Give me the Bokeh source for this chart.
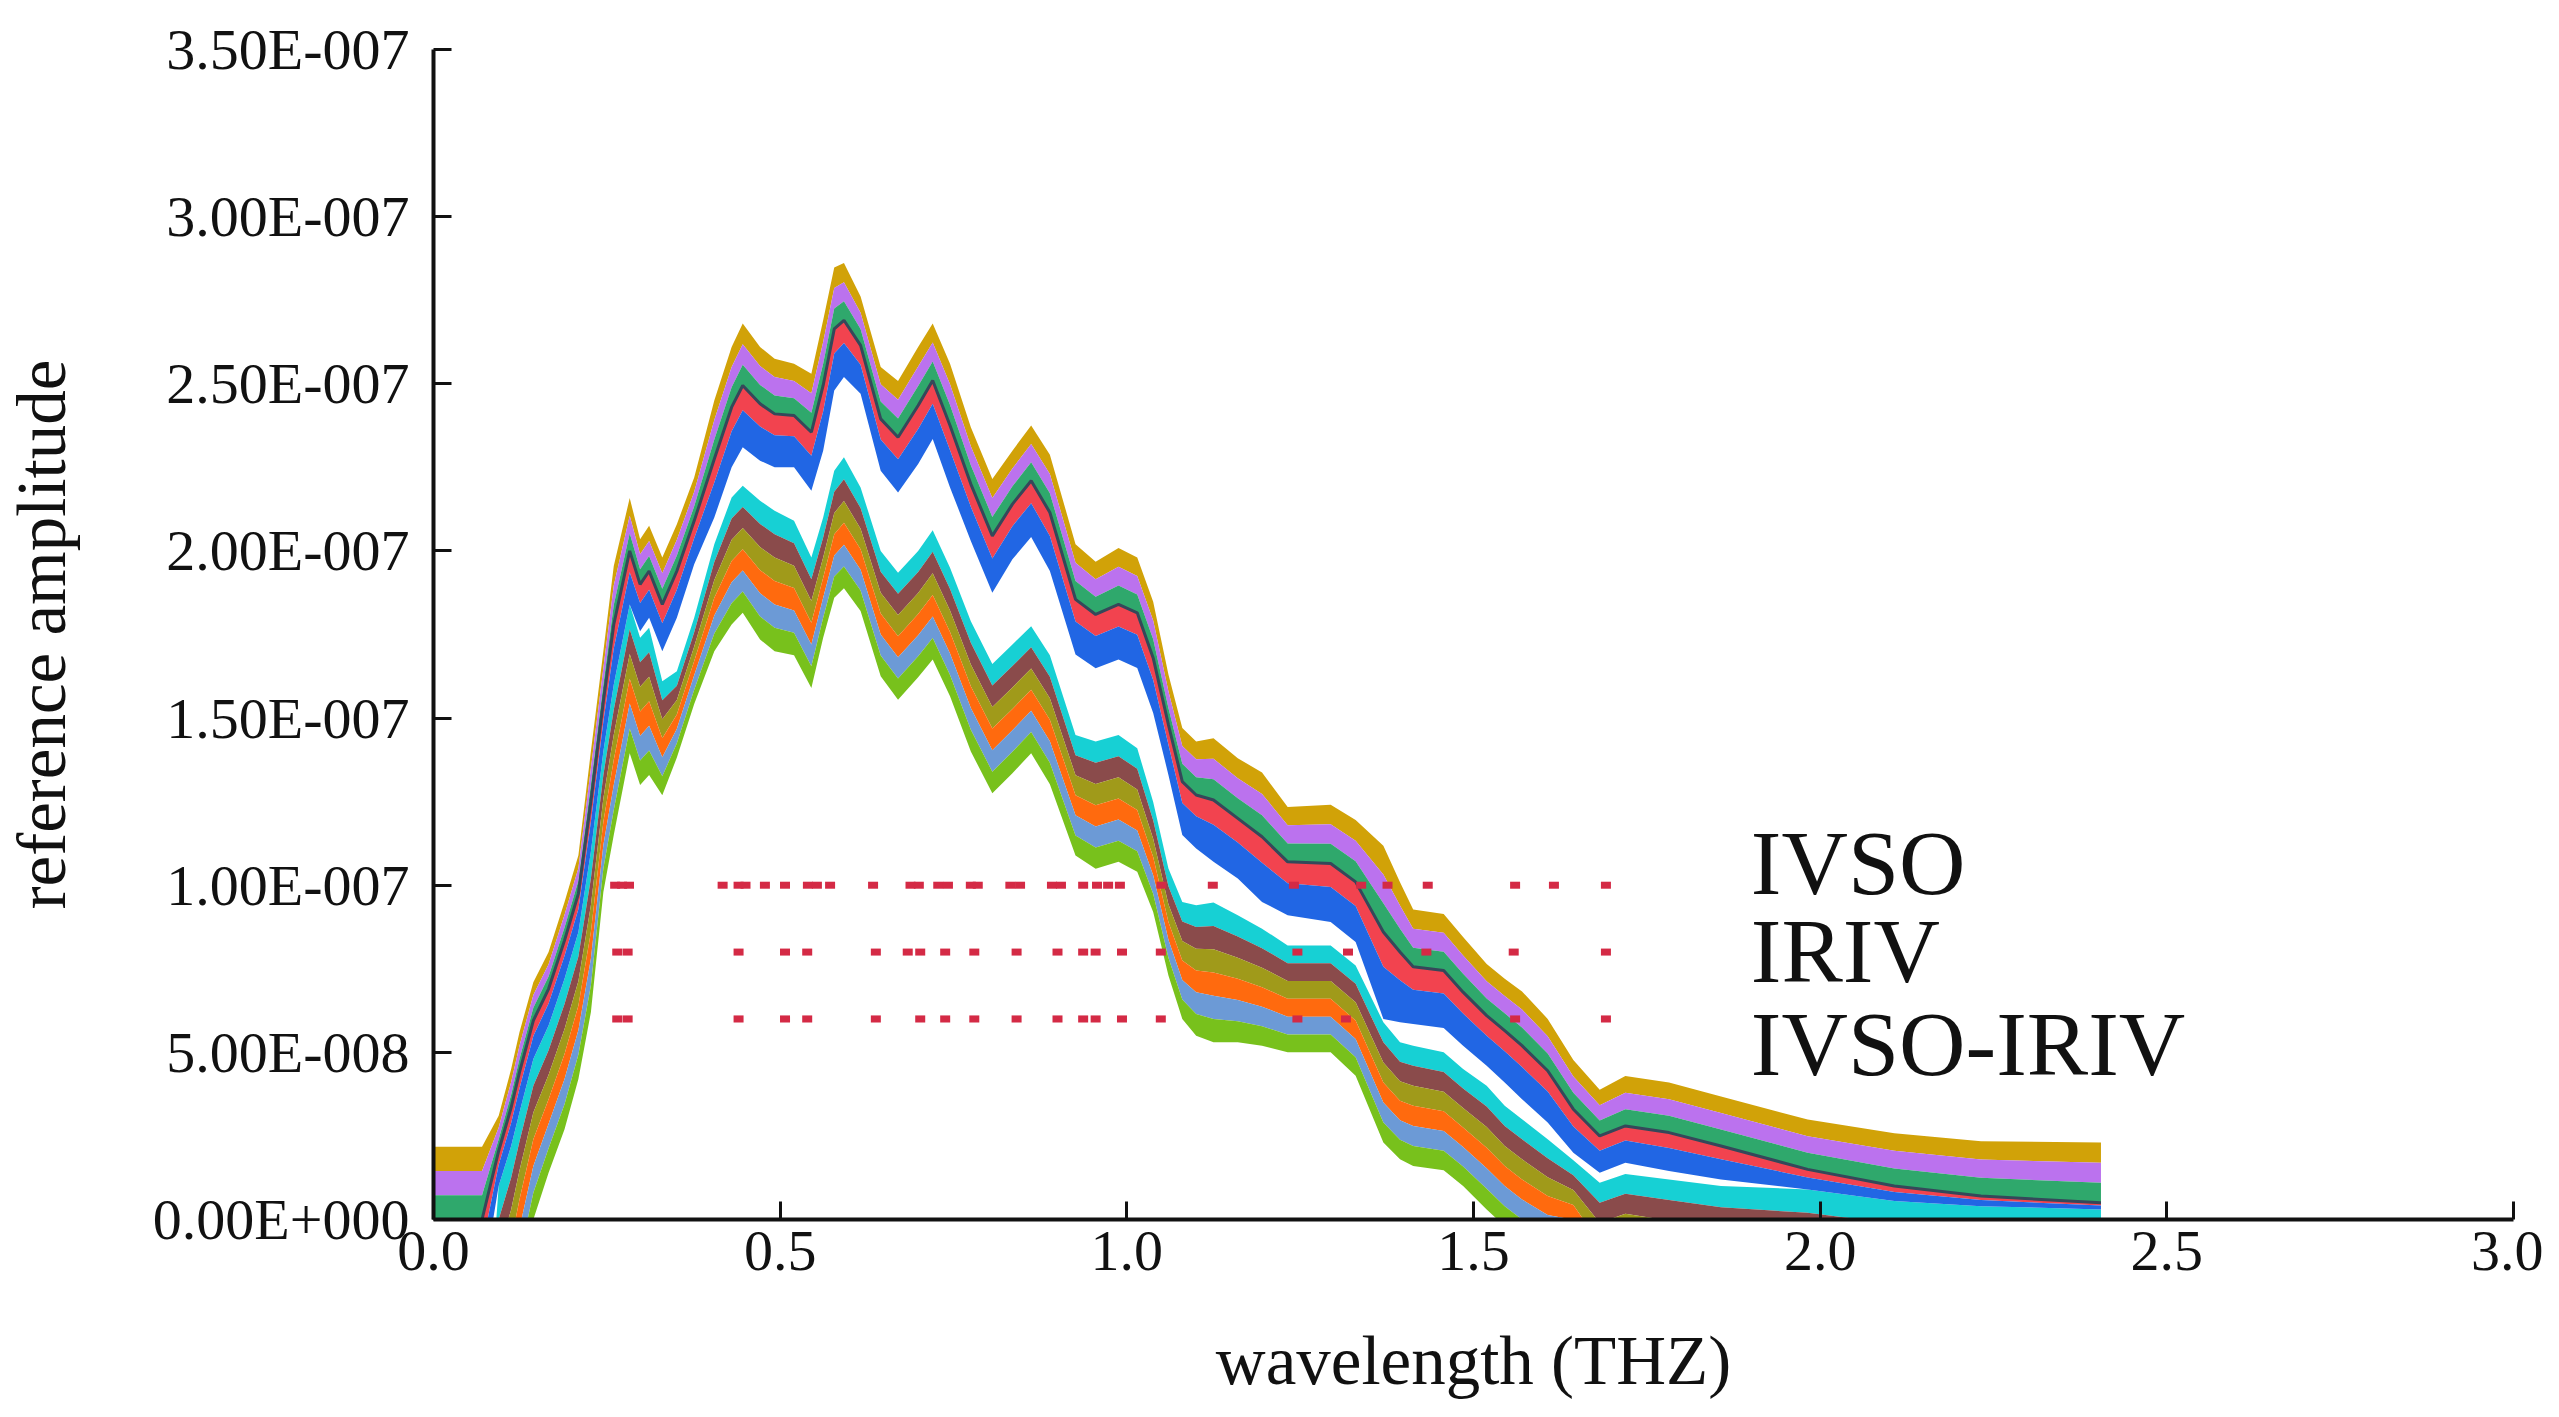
from bokeh.plotting import figure
from bokeh.models import Range1d, FixedTicker, CustomJSTickFormatter, PrintfTickFormatter, Label
from bokeh.embed import file_html
from bokeh.resources import INLINE

UNIT = 1e-7  # amplitudes below are written in units of 1e-7

# frequency grid (THz) at which the spectral band edges were read
freq = [0.000, 0.070, 0.094, 0.112, 0.124, 0.144, 0.166, 0.189, 0.209, 0.227,
        0.245, 0.260, 0.283, 0.298, 0.311, 0.330, 0.351, 0.376, 0.405, 0.430,
        0.446, 0.471, 0.492, 0.520, 0.545, 0.562, 0.578, 0.592, 0.616, 0.645,
        0.670, 0.699, 0.720, 0.745, 0.775, 0.806, 0.835, 0.862, 0.889, 0.926,
        0.955, 0.988, 1.015, 1.038, 1.060, 1.080, 1.100, 1.125, 1.160, 1.195,
        1.232, 1.294, 1.330, 1.370, 1.394, 1.413, 1.457, 1.485, 1.519, 1.545,
        1.570, 1.607, 1.644, 1.682, 1.719, 1.782, 1.857, 1.982, 2.107, 2.232,
        2.405]

# upper group of spectra: top edge, edge under the 3 broad strips, bottom edge
upper_top = [0.218, 0.218, 0.310, 0.450, 0.560, 0.710, 0.800, 0.950, 1.090, 1.400,
             1.700, 1.955, 2.158, 2.035, 2.075, 1.980, 2.080, 2.220, 2.450, 2.610,
             2.680, 2.610, 2.575, 2.560, 2.530, 2.690, 2.848, 2.861, 2.761, 2.550,
             2.508, 2.610, 2.680, 2.560, 2.370, 2.215, 2.300, 2.375, 2.288, 2.020,
             1.968, 2.009, 1.980, 1.848, 1.630, 1.470, 1.430, 1.440, 1.380, 1.337,
             1.234, 1.241, 1.195, 1.118, 1.009, 0.927, 0.914, 0.845, 0.764, 0.720,
             0.682, 0.600, 0.477, 0.388, 0.429, 0.410, 0.368, 0.299, 0.258, 0.234,
             0.230]
upper_mid = [0.000, 0.000, 0.205, 0.335, 0.440, 0.595, 0.690, 0.835, 0.975, 1.250,
             1.550, 1.780, 2.000, 1.900, 1.940, 1.840, 1.940, 2.090, 2.275, 2.430,
             2.495, 2.440, 2.410, 2.405, 2.355, 2.495, 2.664, 2.690, 2.615, 2.395,
             2.340, 2.435, 2.510, 2.375, 2.200, 2.045, 2.140, 2.210, 2.115, 1.855,
             1.810, 1.840, 1.815, 1.680, 1.480, 1.310, 1.270, 1.255, 1.200, 1.145,
             1.070, 1.065, 1.010, 0.860, 0.800, 0.756, 0.745, 0.680, 0.610, 0.565,
             0.520, 0.445, 0.330, 0.250, 0.280, 0.260, 0.220, 0.150, 0.100, 0.070,
             0.050]
upper_bottom = [-0.200, -0.200, 0.100, 0.220, 0.320, 0.480, 0.580, 0.720, 0.860, 1.100,
                1.400, 1.600, 1.840, 1.760, 1.800, 1.700, 1.800, 1.960, 2.100, 2.250,
                2.310, 2.270, 2.250, 2.250, 2.180, 2.300, 2.480, 2.520, 2.470, 2.240,
                2.175, 2.260, 2.335, 2.190, 2.030, 1.875, 1.975, 2.042, 1.940, 1.690,
                1.649, 1.675, 1.650, 1.515, 1.330, 1.150, 1.110, 1.070, 1.020, 0.950,
                0.910, 0.890, 0.830, 0.600, 0.590, 0.585, 0.573, 0.520, 0.460, 0.410,
                0.360, 0.290, 0.200, 0.140, 0.170, 0.145, 0.120, 0.090, 0.055, 0.040,
                0.030]
# lower group of spectra: top edge and bottom edge
lower_top = [-0.600, -0.600, 0.100, 0.220, 0.320, 0.480, 0.580, 0.720, 0.860, 1.100,
             1.400, 1.600, 1.840, 1.740, 1.770, 1.610, 1.640, 1.800, 2.020, 2.160,
             2.195, 2.150, 2.120, 2.090, 1.980, 2.100, 2.240, 2.280, 2.190, 2.000,
             1.935, 2.000, 2.062, 1.950, 1.790, 1.662, 1.720, 1.775, 1.688, 1.449,
             1.430, 1.449, 1.410, 1.249, 1.050, 0.950, 0.940, 0.948, 0.910, 0.870,
             0.820, 0.820, 0.760, 0.590, 0.530, 0.520, 0.500, 0.450, 0.400, 0.340,
             0.300, 0.240, 0.177, 0.110, 0.136, 0.120, 0.100, 0.090, 0.055, 0.040,
             0.030]
lower_bottom = [-1.000, -1.000, -0.500, -0.350, -0.200, 0.000, 0.140, 0.270, 0.420, 0.620,
                0.980, 1.150, 1.395, 1.300, 1.330, 1.269, 1.382, 1.542, 1.700, 1.780,
                1.815, 1.735, 1.700, 1.688, 1.590, 1.740, 1.860, 1.888, 1.820, 1.625,
                1.555, 1.622, 1.675, 1.565, 1.400, 1.275, 1.335, 1.395, 1.302, 1.089,
                1.049, 1.070, 1.040, 0.920, 0.730, 0.600, 0.550, 0.530, 0.530, 0.520,
                0.500, 0.500, 0.430, 0.230, 0.180, 0.160, 0.147, 0.100, 0.030, -0.020,
                -0.060, -0.100, -0.090, -0.250, -0.220, -0.250, -0.280, -0.330, -0.350, -0.360,
                -0.360]

# selected variables (THz) of the three methods and the level of their marker rows
ivso_sel = [0.262, 0.272, 0.282, 0.417, 0.440, 0.450, 0.478, 0.507, 0.540, 0.553,
            0.572, 0.634, 0.688, 0.700, 0.728, 0.742, 0.775, 0.785, 0.832, 0.846,
            0.892, 0.905, 0.937, 0.957, 0.973, 0.990, 1.050, 1.124, 1.241, 1.338,
            1.376, 1.434, 1.560, 1.616, 1.691]
iriv_sel = [0.265, 0.280, 0.440, 0.507, 0.539, 0.638, 0.684, 0.702, 0.738, 0.780,
            0.841, 0.900, 0.937, 0.955, 0.993, 1.049, 1.246, 1.319, 1.432, 1.558,
            1.691]
ivso_iriv_sel = [0.265, 0.280, 0.440, 0.507, 0.539, 0.638, 0.702, 0.738, 0.780, 0.841,
                 0.900, 0.937, 0.955, 0.993, 1.049, 1.246, 1.316, 1.560, 1.691]
method_names = ["IVSO", "IRIV", "IVSO-IRIV"]
method_levels = [1.0e-7, 0.8e-7, 0.6e-7]

x_ticks = [0.0, 0.5, 1.0, 1.5, 2.0, 2.5, 3.0]
y_ticks = [0.0, 0.5e-7, 1.0e-7, 1.5e-7, 2.0e-7, 2.5e-7, 3.0e-7, 3.5e-7]

upper_colors_a = ["#D1A208", "#BB72EE", "#2FA86C"]
upper_colors_b = ["#F2434F", "#2166E4"]
lower_colors = ["#17D0D4", "#8A4B4B", "#A09A1A", "#FF6A0E", "#6C9AD6", "#78C11C"]
FONT = "Liberation Serif"

T1 = [v * UNIT for v in upper_top]
M1 = [v * UNIT for v in upper_mid]
B1 = [v * UNIT for v in upper_bottom]
T2 = [v * UNIT for v in lower_top]
B2 = [v * UNIT for v in lower_bottom]

p = figure(width=2543, height=1401, x_range=Range1d(0, 3), y_range=Range1d(0, 3.5e-7),
           output_backend="svg", toolbar_location=None,
           min_border_left=432, min_border_right=30, min_border_top=49, min_border_bottom=180)
p.xgrid.visible = False
p.ygrid.visible = False
p.outline_line_color = None
p.background_fill_color = "white"


def strips(top, bot, colors, fractions):
    # draw a band between two read edges as coloured strips
    edges = [0.0] + fractions + [1.0]
    for i, c in enumerate(colors):
        a, b = edges[i], edges[i + 1]
        y1 = [t - a * (t - s) for t, s in zip(top, bot)]
        y2 = [t - b * (t - s) for t, s in zip(top, bot)]
        p.varea(x=freq, y1=y1, y2=y2, fill_color=c)


strips(T2, B2, lower_colors, [1/6, 2/6, 3/6, 4/6, 5/6])
strips(T1, M1, upper_colors_a, [1/3, 2/3])
strips(M1, B1, upper_colors_b, [0.4])
p.line(freq, M1, line_color="#35485A", line_width=3)

for sel, lev in zip([ivso_sel, iriv_sel, ivso_iriv_sel], method_levels):
    p.rect(x=sel, y=[lev] * len(sel), width=10, height=7, width_units="screen",
           height_units="screen", fill_color="#D42A45", line_color=None)

# method names, vertically centred on their cap height
label_y = [1.067e-7, 0.804e-7, 0.525e-7]
for name, ly in zip(method_names, label_y):
    p.add_layout(Label(x=1.9, y=ly, text=name, text_font=FONT, text_font_size="92px",
                       text_baseline="middle", text_align="left", text_color="#111111"))

for ax in (p.xaxis[0], p.yaxis[0]):
    ax.axis_line_width = 4
    ax.axis_line_color = "#111111"
    ax.major_tick_line_width = 3
    ax.major_tick_line_color = "#111111"
    ax.major_tick_in = 18
    ax.major_tick_out = 0
    ax.minor_tick_in = 0
    ax.minor_tick_out = 0
    ax.major_label_text_font = FONT
    ax.major_label_text_font_size = "58px"
    ax.major_label_text_color = "#111111"
    ax.axis_label_text_font = FONT
    ax.axis_label_text_font_size = "69px"
    ax.axis_label_text_font_style = "normal"
    ax.axis_label_text_color = "#111111"

p.xaxis[0].ticker = FixedTicker(ticks=x_ticks)
p.xaxis[0].formatter = PrintfTickFormatter(format="%.1f")
p.xaxis[0].major_label_standoff = 12
p.xaxis[0].axis_label = "wavelength (THZ)"
p.xaxis[0].axis_label_standoff = 50

p.yaxis[0].ticker = FixedTicker(ticks=y_ticks)
p.yaxis[0].formatter = CustomJSTickFormatter(code="""
if (tick == 0) { return "0.00E+000"; }
const e = Math.floor(Math.log10(Math.abs(tick)) + 1e-9);
const m = tick / Math.pow(10, e);
const s = e < 0 ? "-" : "+";
return m.toFixed(2) + "E" + s + String(Math.abs(e)).padStart(3, "0");
""")
p.yaxis[0].major_label_standoff = 24
p.yaxis[0].axis_label = "reference amplitude"
p.yaxis[0].axis_label_standoff = 70

open("out.html", "w").write(file_html(p, INLINE))
